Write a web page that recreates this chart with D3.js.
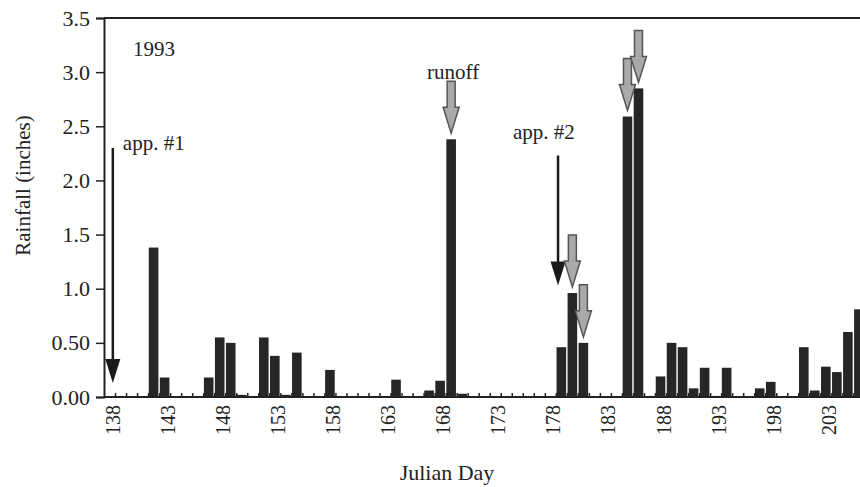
<!DOCTYPE html>
<html>
<head>
<meta charset="utf-8">
<script src="https://cdn.jsdelivr.net/npm/d3@7"></script>
<style>
  body { margin: 0; background: #fff; }
  text { font-family: "Liberation Serif", "DejaVu Serif", serif; fill: #222; }
</style>
</head>
<body>
<div id="chart"></div>
<script>
// daily rainfall, Julian day 138 - 206 (1993)
const days = d3.range(138, 207);
const rainfall = [
  0, 0, 0, 0, 1.38, 0.18, 0, 0, 0, 0.18,      // 138-147
  0.55, 0.50, 0.02, 0, 0.55, 0.38, 0.02, 0.41, 0, 0, // 148-157
  0.25, 0, 0, 0, 0, 0, 0.16, 0, 0, 0.06,      // 158-167
  0.15, 2.38, 0.03, 0, 0, 0, 0, 0, 0, 0,      // 168-177
  0, 0.46, 0.96, 0.50, 0, 0, 0, 2.59, 2.85, 0.01, // 178-187
  0.19, 0.50, 0.46, 0.08, 0.27, 0.01, 0.27, 0, 0, 0.08, // 188-197
  0.14, 0, 0, 0.46, 0.06, 0.28, 0.23, 0.60, 0.81 // 198-206
];
const xLabelDays = [138, 143, 148, 153, 158, 163, 168, 173, 178, 183, 188, 193, 198, 203];
const yTicks = [0, 0.5, 1.0, 1.5, 2.0, 2.5, 3.0, 3.5];
const yTickLabels = ["0.00", "0.50", "1.0", "1.5", "2.0", "2.5", "3.0", "3.5"];
const runoffDays = [169, 180, 181, 185, 186];
const appLabels = ["app. #1", "app. #2"];
const appDays = [138.3, 178.7];
const appFrom = [2.30, 2.23];
const appTo = [0.13, 1.03];

const width = 860;
const height = 487;
const margin = { top: 18, left: 104, bottom: 90 };
const plotBottom = height - margin.bottom;

const data = days.map((d, i) => ({ day: d, value: rainfall[i] }));

const svg = d3
  .select("#chart")
  .append("svg")
  .attr("width", width)
  .attr("height", height);

const x = d3.scaleLinear().domain([137.5, 206.1]).range([margin.left, width]);
const y = d3.scaleLinear().domain([0, 3.5]).range([plotBottom, margin.top]);

// small day ticks (pointing up)
svg
  .append("g")
  .attr("transform", `translate(0, ${plotBottom})`)
  .call(d3.axisBottom(x).tickValues(d3.range(138.5, 206, 1)).tickSize(-4).tickFormat(""))
  .call(g => g.select(".domain").remove())
  .call(g => g.selectAll("line").attr("stroke", "#222").attr("stroke-width", 1.5));

// bars
const barW = 9.6;
svg
  .append("g")
  .selectAll("rect")
  .data(data.filter(d => d.value > 0))
  .join("rect")
  .attr("x", d => x(d.day) - barW / 2)
  .attr("width", barW)
  .attr("y", d => y(d.value))
  .attr("height", d => y(0) - y(d.value))
  .attr("fill", "#262626");

// x axis labels
svg
  .append("g")
  .attr("transform", `translate(0, ${plotBottom})`)
  .call(d3.axisBottom(x).tickValues(xLabelDays).tickSize(0).tickFormat(d3.format("d")))
  .call(g => g.select(".domain").remove())
  .call(g =>
    g
      .selectAll("text")
      .attr("transform", "rotate(-90)")
      .attr("text-anchor", "end")
      .attr("x", -8)
      .attr("y", 2.5)
      .attr("dy", "0.35em")
      .style("font-size", "20px")
      .style("font-family", "Liberation Serif")
  );

// baseline
svg
  .append("line")
  .attr("x1", margin.left)
  .attr("x2", width)
  .attr("y1", y(0))
  .attr("y2", y(0))
  .attr("stroke", "#222")
  .attr("stroke-width", 2);

// y axis
svg
  .append("g")
  .attr("transform", `translate(${margin.left}, 0)`)
  .call(d3.axisLeft(y).tickValues(yTicks).tickFormat((d, i) => yTickLabels[i]).tickSize(8).tickPadding(6))
  .call(g => g.select(".domain").attr("stroke", "#222").attr("stroke-width", 2))
  .call(g => g.selectAll("line").attr("stroke", "#222").attr("stroke-width", 1.5))
  .call(g => g.selectAll("text").style("font-size", "22px").style("font-family", "Liberation Serif"));

// top frame line
svg
  .append("line")
  .attr("x1", margin.left)
  .attr("x2", width)
  .attr("y1", y(3.5))
  .attr("y2", y(3.5))
  .attr("stroke", "#222")
  .attr("stroke-width", 2);

// axis titles
svg
  .append("text")
  .attr("transform", `translate(30, ${(y(0) + y(3.5)) / 2 - 22}) rotate(-90)`)
  .attr("text-anchor", "middle")
  .style("font-size", "21px")
  .text("Rainfall (inches)");

svg
  .append("text")
  .attr("x", 447)
  .attr("y", 480)
  .attr("text-anchor", "middle")
  .style("font-size", "22px")
  .text("Julian Day");

svg
  .append("text")
  .attr("x", 133)
  .attr("y", 56)
  .style("font-size", "21px")
  .text("1993");

// application arrows (black)
const appLabelOffset = [{ dx: 10, dy: 2 }, { dx: -45, dy: -17 }];
appDays.forEach((d, i) => {
  const ax = x(d);
  const y1 = y(appFrom[i]);
  const tip = y(appTo[i]);
  const headH = 24;
  const headW = 15;
  svg
    .append("line")
    .attr("x1", ax)
    .attr("x2", ax)
    .attr("y1", y1)
    .attr("y2", tip - headH + 2)
    .attr("stroke", "#1a1a1a")
    .attr("stroke-width", 2.5);
  svg
    .append("path")
    .attr("d", `M${ax - headW / 2},${tip - headH} L${ax + headW / 2},${tip - headH} L${ax},${tip} Z`)
    .attr("fill", "#1a1a1a");
  svg
    .append("text")
    .attr("x", ax + appLabelOffset[i].dx)
    .attr("y", y1 + appLabelOffset[i].dy)
    .style("font-size", "21px")
    .text(appLabels[i]);
});

// runoff arrows (gray block arrows)
const arrowLen = 52;
const shaftW = 8;
const headW = 16;
const headH = 26;
runoffDays.forEach(d => {
  const v = rainfall[days.indexOf(d)];
  const ax = x(d);
  const tip = y(v) - 6;
  const top = tip - arrowLen;
  const hs = tip - headH;
  const path = [
    [ax - shaftW / 2, top],
    [ax + shaftW / 2, top],
    [ax + shaftW / 2, hs],
    [ax + headW / 2, hs],
    [ax, tip],
    [ax - headW / 2, hs],
    [ax - shaftW / 2, hs]
  ];
  svg
    .append("path")
    .attr("d", d3.line()(path) + "Z")
    .attr("fill", "#a9a9a9")
    .attr("stroke", "#555")
    .attr("stroke-width", 1.5);
  if (d === 169) {
    svg
      .append("text")
      .attr("x", ax + 2)
      .attr("y", top - 2)
      .attr("text-anchor", "middle")
      .style("font-size", "21px")
      .text("runoff");
  }
});
</script>
</body>
</html>
